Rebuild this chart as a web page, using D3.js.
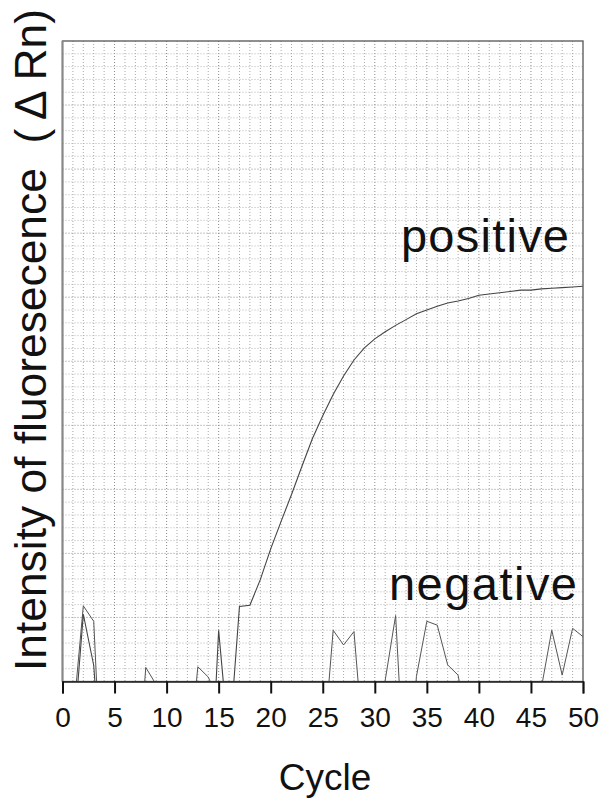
<!DOCTYPE html>
<html>
<head>
<meta charset="utf-8">
<script src="https://cdn.jsdelivr.net/npm/d3@7"></script>
<style>
  html, body { margin: 0; padding: 0; background: #fff; }
  svg { display: block; font-family: "Liberation Sans", Arial, Helvetica, sans-serif; }
</style>
</head>
<body>
<svg id="chart" width="609" height="799"></svg>
<script>
// ---- data (ΔRn in arbitrary units, cycles 1..50) ----
const cycles = d3.range(1, 51);
const positiveValues = [
  -10, 10.5, 2.5, -20, -12, -10, -14, -9, -12, -10,
  -11, -13, -9, -25, 8.0, -10, 11.7, 11.9, 15.9, 20.7,
  25.0, 29.2, 33.6, 37.9, 41.5, 44.8, 47.7, 50.2, 52.1, 53.5,
  54.6, 55.6, 56.5, 57.4, 58.0, 58.6, 59.1, 59.4, 59.8, 60.3,
  60.5, 60.7, 60.9, 61.1, 61.1, 61.3, 61.4, 61.5, 61.6, 61.7
];
const negativeValues = [
  -6, 11.8, 9.4, -25, -10, -8, -20, 2.2, -0.5, -10,
  -8, -15, 2.3, 0.7, -3, -10, -6, -12, -9, -14,
  -8, -11, -10, -13, -12, 8.0, 5.7, 7.8, -12, -10,
  0.2, 10.3, -20, 0.8, 9.4, 8.8, 2.6, 1.0, -8, -10,
  -12, -9, -11, -10, -8, -1, 8.0, 1.0, 8.3, 7.0
];
const xTicks = [0, 5, 10, 15, 20, 25, 30, 35, 40, 45, 50];
const xLabel = "Cycle";
const yLabel = "Intensity of fluoresecence  (\u2009\u0394 Rn)";
const seriesLabels = ["positive", "negative"];

// ---- layout ----
const W = 609, H = 799;
const pL = 62.5, pR = 583, pT = 41, pB = 681.5;

const svg = d3.select("#chart");
const x = d3.scaleLinear().domain([0, 50]).range([pL, pR]);
const y = d3.scaleLinear().domain([0, 100]).range([pB, pT]);

// grid
const grid = svg.append("g");
grid.selectAll("line.v").data(d3.range(1, 50)).join("line")
  .attr("x1", d => x(d)).attr("x2", d => x(d))
  .attr("y1", pT).attr("y2", pB)
  .attr("stroke", d => d % 5 === 0 ? "#8a8a8a" : "#a8a8a8")
  .attr("stroke-width", 1)
  .attr("stroke-dasharray", "1,2");
grid.selectAll("line.h").data(d3.range(2, 100, 2)).join("line")
  .attr("x1", pL).attr("x2", pR)
  .attr("y1", d => y(d)).attr("y2", d => y(d))
  .attr("stroke", d => d % 10 === 0 ? "#8a8a8a" : "#b4b4b4")
  .attr("stroke-width", 1)
  .attr("stroke-dasharray", "1,2");

// clip
svg.append("clipPath").attr("id", "plotclip")
  .append("rect").attr("x", pL).attr("y", pT)
  .attr("width", pR - pL).attr("height", pB - pT);

const line = d3.line().x((d, i) => x(cycles[i])).y(d => y(d));

svg.append("path").datum(negativeValues)
  .attr("d", line).attr("fill", "none")
  .attr("stroke", "#555").attr("stroke-width", 1)
  .attr("clip-path", "url(#plotclip)");
svg.append("path").datum(positiveValues)
  .attr("d", line).attr("fill", "none")
  .attr("stroke", "#444").attr("stroke-width", 1.1)
  .attr("clip-path", "url(#plotclip)");

// frame
svg.append("rect").attr("x", pL).attr("y", pT)
  .attr("width", pR - pL).attr("height", pB - pT)
  .attr("fill", "none").attr("stroke", "#555").attr("stroke-width", 1.3);
svg.append("line").attr("x1", pL).attr("x2", pL).attr("y1", pT).attr("y2", pB)
  .attr("stroke", "#888").attr("stroke-width", 2);

// x axis
const xAxis = d3.axisBottom(x).tickValues(xTicks).tickSize(12).tickPadding(14)
  .tickFormat(d3.format("d"));
const gx = svg.append("g").attr("transform", `translate(0,${pB})`).call(xAxis);
gx.select(".domain").attr("stroke", "#222").attr("stroke-width", 1.5);
gx.selectAll(".tick line").attr("stroke", "#111").attr("stroke-width", 2);
gx.selectAll(".tick text")
  .attr("font-family", "Liberation Sans, Arial, sans-serif")
  .attr("font-size", 28).attr("fill", "#111");

// axis titles
svg.append("text").attr("x", 325).attr("y", 790)
  .attr("text-anchor", "middle").attr("font-size", 37).attr("fill", "#111")
  .text(xLabel);
svg.append("text")
  .attr("transform", "translate(46,340) rotate(-90)")
  .attr("text-anchor", "middle").attr("font-size", 44).attr("fill", "#111")
  .attr("textLength", 662).attr("lengthAdjust", "spacingAndGlyphs")
  .style("white-space", "pre")
  .text(yLabel);

// series labels
svg.append("text").attr("x", 401).attr("y", 252)
  .attr("font-size", 47).attr("fill", "#111")
  .attr("textLength", 168).attr("lengthAdjust", "spacing")
  .text(seriesLabels[0]);
svg.append("text").attr("x", 389).attr("y", 600)
  .attr("font-size", 47).attr("fill", "#111")
  .attr("textLength", 188).attr("lengthAdjust", "spacing")
  .text(seriesLabels[1]);
</script>
</body>
</html>
